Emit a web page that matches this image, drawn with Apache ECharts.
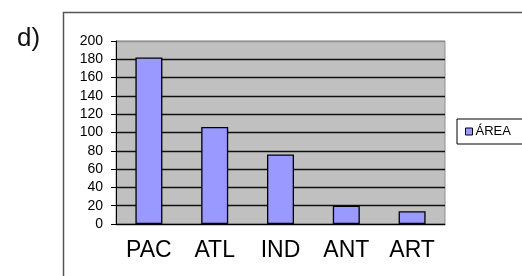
<!DOCTYPE html>
<html>
<head>
<meta charset="utf-8">
<script src="https://cdn.jsdelivr.net/npm/echarts@6/dist/echarts.min.js"></script>
<style>
  html, body { margin: 0; padding: 0; background: #fff; }
  #chart { width: 522px; height: 276px; }
</style>
</head>
<body>
<div id="chart"></div>
<script>
  // valores
  var oceanos = ['PAC', 'ATL', 'IND', 'ANT', 'ART']
  var area = [182, 106, 76, 20, 14]
  var serieNome = 'ÁREA'
  var yMin = 0
  var yMax = 200
  var yStep = 20

  var chart = echarts.init(document.getElementById('chart'))
  var gridColors = []
  for (var v = yMin; v <= yMax; v += yStep) {
    gridColors.push(v === yMax ? '#909090' : '#111')
  }
  chart.setOption({
    animation: false,
    textStyle: { fontFamily: 'Liberation Sans, Arial, sans-serif' },
    graphic: [
      {
        type: 'rect',
        shape: { x: 63.5, y: 12.5, width: 500, height: 300 },
        style: { fill: 'none', stroke: '#555', lineWidth: 1.5 }
      },
      {
        type: 'text',
        left: 17,
        top: 26,
        style: { text: 'd)', font: '26px Liberation Sans, Arial, sans-serif', fill: '#111' }
      }
    ],
    grid: {
      left: 116,
      top: 41,
      width: 329,
      height: 183,
      show: true,
      backgroundColor: '#c0c0c0',
      borderColor: '#909090',
      borderWidth: 1
    },
    legend: {
      left: 457,
      top: 119,
      orient: 'vertical',
      padding: [6, 40, 6, 8],
      borderColor: '#000',
      borderWidth: 1,
      backgroundColor: '#fff',
      icon: 'rect',
      itemWidth: 7,
      itemHeight: 7,
      itemGap: 5,
      itemStyle: { color: '#9999ff', borderColor: '#000', borderWidth: 1 },
      textStyle: { fontSize: 13, color: '#000', padding: [0, 0, 0, -2] },
      data: [serieNome]
    },
    xAxis: {
      type: 'category',
      data: oceanos,
      axisLine: { lineStyle: { color: '#000', width: 1 } },
      axisTick: { length: 4, lineStyle: { color: '#000' } },
      axisLabel: { fontSize: 23, color: '#000', margin: 15 },
      splitLine: { show: false }
    },
    yAxis: {
      type: 'value',
      min: yMin,
      max: yMax,
      interval: yStep,
      axisLine: { show: true, lineStyle: { color: '#000', width: 1 } },
      axisTick: { show: true, length: 5, lineStyle: { color: '#000' } },
      axisLabel: { fontSize: 14, color: '#000', margin: 13 },
      splitLine: { lineStyle: { color: gridColors, width: 1.3 } }
    },
    series: [
      {
        name: serieNome,
        type: 'bar',
        data: area,
        barWidth: 27,
        itemStyle: { color: '#9999ff', borderColor: '#000', borderWidth: 1.3 }
      }
    ]
  })
</script>
</body>
</html>
